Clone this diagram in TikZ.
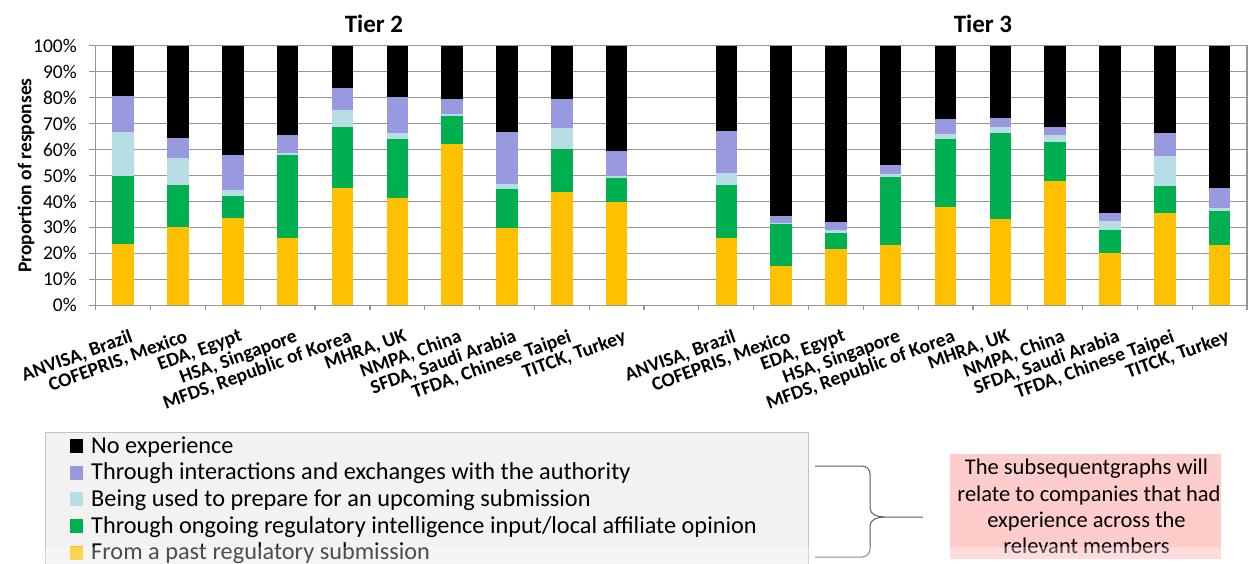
\documentclass[tikz,border=0pt]{standalone}
\usepackage{fontspec}
\setmainfont{Carlito}
\definecolor{cpurple}{RGB}{153,153,224}
\definecolor{clblue}{RGB}{183,222,228}
\definecolor{cgreen}{RGB}{0,176,80}
\definecolor{cyellow}{RGB}{255,192,0}
\definecolor{cgrid}{RGB}{150,150,150}
\definecolor{cleg}{RGB}{242,242,242}
\definecolor{clegb}{RGB}{195,195,195}
\definecolor{cpink}{RGB}{255,204,204}
\definecolor{cbrace}{RGB}{90,90,90}
\tikzset{
  gridline/.style={draw=cgrid, line width=1.3pt},
  ticklab/.style={anchor=east, inner sep=0pt, font=\fontsize{19.5}{22}\selectfont},
  catlab/.style={anchor=north east, inner sep=0pt, rotate=20, font=\fontsize{19.5}{22}\selectfont\bfseries},
  titlelab/.style={anchor=base, inner sep=0pt, font=\fontsize{25}{28}\selectfont\bfseries},
  legtext/.style={anchor=base west, inner sep=0pt, font=\fontsize{24.3}{28}\selectfont},
  legmark/.style={minimum width=13pt, minimum height=14pt, inner sep=0pt, anchor=south west},
  notetext/.style={anchor=base, inner sep=0pt, font=\fontsize{22.5}{26}\selectfont},
  bracepath/.style={draw=cbrace, line width=1pt},
}
\begin{document}
\begin{tikzpicture}[x=1pt,y=1pt]
\useasboundingbox (0,0) rectangle (1251,563);
\clip (0,0) rectangle (1251,563);
\def\xo{95.7}
\def\cw{54.83}
\def\yo{257.7}
\def\pc{2.596}
\def\bw{10.75}
% bars
\foreach \k/\a/\b/\c/\d in {
 0/23.6/49.8/66.6/80.5, 1/30.3/46.3/56.6/64.6, 2/33.8/42.2/44.3/57.8,
 3/25.8/57.9/58.8/65.5, 4/45.2/68.8/75.2/83.6, 5/41.3/64.2/66.2/80.2,
 6/62.0/73.0/73.8/79.3, 7/29.9/44.8/46.9/66.6, 8/43.5/60.3/68.4/79.3,
 9/39.7/49.2/49.8/59.4,
 11/25.8/46.3/51.0/67.0, 12/15.3/31.3/31.8/34.3, 13/21.6/27.9/29.1/32.1,
 14/23.2/49.3/50.6/54.0, 15/38.0/64.1/66.1/71.8, 16/33.4/66.2/68.8/72.1,
 17/47.8/62.8/65.5/68.8, 18/20.3/29.1/32.6/35.4, 19/35.4/46.1/57.4/66.5,
 20/23.2/36.2/37.5/45.1}{
  \pgfmathsetmacro\cx{\xo+(\k+0.5)*\cw}
  \fill[cyellow] (\cx-\bw,\yo) rectangle (\cx+\bw,\yo+\a*\pc);
  \fill[cgreen] (\cx-\bw,\yo+\a*\pc) rectangle (\cx+\bw,\yo+\b*\pc);
  \fill[clblue] (\cx-\bw,\yo+\b*\pc) rectangle (\cx+\bw,\yo+\c*\pc);
  \fill[cpurple] (\cx-\bw,\yo+\c*\pc) rectangle (\cx+\bw,\yo+\d*\pc);
  \fill[black] (\cx-\bw,\yo+\d*\pc) rectangle (\cx+\bw,\yo+100*\pc);
}
% axis ticks and tick labels
\foreach \i in {0,...,10}{
  \pgfmathsetmacro\gy{\yo+\i*10*\pc}
  \draw[gridline] (89,\gy) -- (\xo,\gy);
  \node[ticklab] (t\i) at (77,\gy) {\the\numexpr\i*10\relax\%};
}
% grid lines between bars
\foreach \k in {0,...,20}{
  \pgfmathsetmacro\xa{\xo+\k*\cw}
  \pgfmathsetmacro\xb{\xo+\k*\cw+27.415-\bw}
  \pgfmathsetmacro\xc{\xo+\k*\cw+27.415+\bw}
  \pgfmathsetmacro\xd{\xo+(\k+1)*\cw}
  \foreach \i in {1,...,9}{
    \draw[gridline] (\xa,\yo+\i*10*\pc) -- (\xb,\yo+\i*10*\pc);
    \draw[gridline] (\xc,\yo+\i*10*\pc) -- (\xd,\yo+\i*10*\pc);
  }
}
\foreach \i in {1,...,9}{
  \draw[gridline] (\xo+10*\cw,\yo+\i*10*\pc) -- (\xo+11*\cw,\yo+\i*10*\pc);
}
\draw[gridline] (\xo,\yo+100*\pc) -- (1247,\yo+100*\pc) -- (1247,\yo);
\draw[gridline] (\xo,\yo+100*\pc) -- (\xo,\yo) -- (1247,\yo);
\foreach \k in {0,...,21}{
  \draw[gridline] (\xo+\k*\cw,\yo) -- (\xo+\k*\cw,\yo-5);
}
% category labels
\foreach \j/\t in {0/{ANVISA, Brazil},1/{COFEPRIS, Mexico},2/{EDA, Egypt},3/{HSA, Singapore},4/{MFDS, Republic of Korea},5/{MHRA, UK},6/{NMPA, China},7/{SFDA, Saudi Arabia},8/{TFDA, Chinese Taipei},9/{TITCK, Turkey}}{
  \node[catlab] (ca\j) at ({\xo+(\j+0.5)*\cw+6},234.5) {\t};
  \node[catlab] (cb\j) at ({\xo+(\j+11.5)*\cw+6},234.5) {\t};
}
% titles and axis label
\node[titlelab] (tier2) at (374,530.3) {Tier 2};
\node[titlelab] (tier3) at (983,530.3) {Tier 3};
\node[rotate=90, inner sep=0pt, font=\fontsize{19.5}{22}\selectfont\bfseries] (ylab) at (26,387.5) {Proportion of responses};
% legend
\node[draw=clegb, fill=cleg, line width=1pt, anchor=north west, minimum width=763pt, minimum height=150pt, inner sep=0pt] (legend) at (45,131.3) {};
\foreach \n/\bl/\col/\t in {1/110/black/{No experience},2/83.3/cpurple/{Through interactions and exchanges with the authority},3/56.7/clblue/{Being used to prepare for an upcoming submission},4/30/cgreen/{Through ongoing regulatory intelligence input/local affiliate opinion},5/3.3/cyellow/{From a past regulatory submission}}{
  \node[legmark, fill=\col] (m\n) at (70,\bl) {};
  \node[legtext] (l\n) at (91,\bl) {\t};
}
% brace
\coordinate (btop) at (815,97);
\coordinate (bbot) at (815,6);
\coordinate (btip) at (923,46);
\draw[bracepath] (btop) -- (862,97) to[out=0,in=90] (870,89) -- (870,55) to[out=-90,in=180] (884,46) -- (btip);
\draw[bracepath] (bbot) -- (862,6) to[out=0,in=-90] (870,14) -- (870,37) to[out=90,in=180] (884,46);
% note box
\node[fill=cpink, anchor=north west, minimum width=271pt, minimum height=105pt, inner sep=0pt] (note) at (950,109.7) {};
\node[notetext] (n1) at (1086.5,88.7) {The subsequentgraphs will};
\node[notetext] (n2) at (1089,62) {relate to companies that had};
\node[notetext] (n3) at (1086.5,35.7) {experience across the};
\node[notetext] (n4) at (1086.5,9.7) {relevant members};
% bottom fade band
\fill[white, opacity=0.3] (0,0) rectangle (1251,16);
\end{tikzpicture}
\end{document}
